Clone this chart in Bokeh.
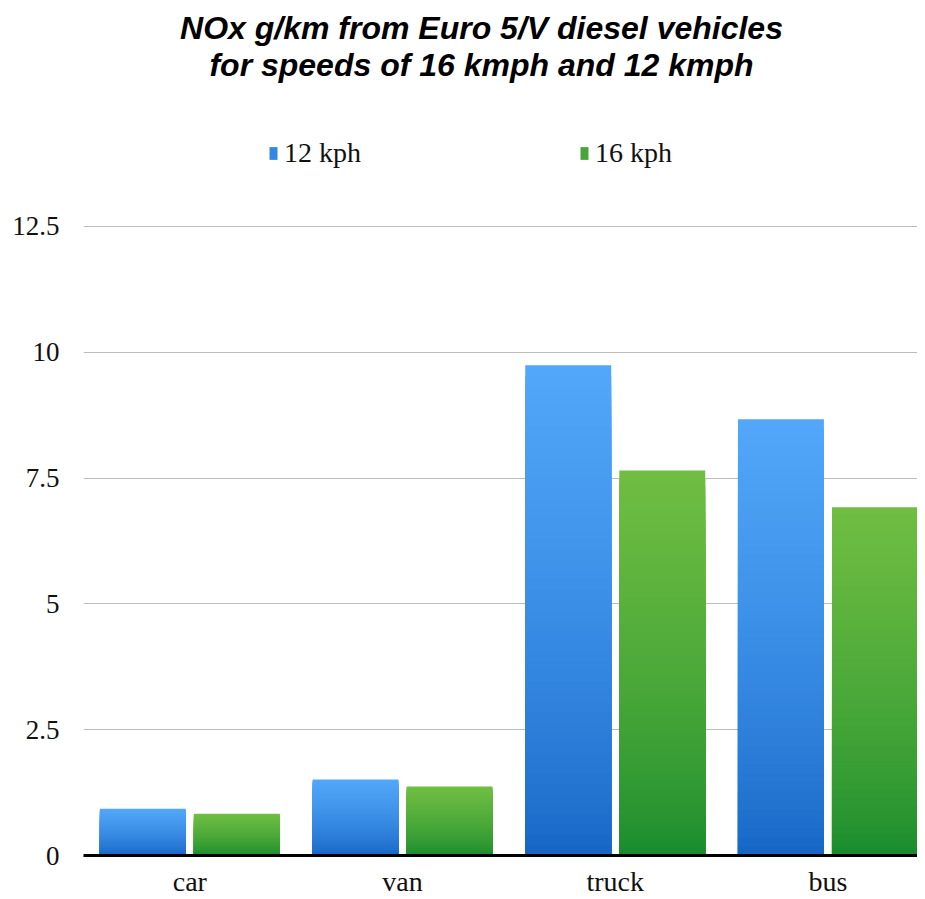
import numpy as np
from bokeh.plotting import figure
from bokeh.models import Range1d, FixedTicker, Legend, LegendItem, ColumnDataSource, Label
from bokeh.embed import file_html
from bokeh.resources import INLINE

# ---- data ----
categories = ["car", "van", "truck", "bus"]
kph12 = [0.93, 1.51, 9.74, 8.67]
kph16 = [0.83, 1.37, 7.65, 6.92]
series_labels = ["12 kph", "16 kph"]
y_ticks = [0, 2.5, 5, 7.5, 10, 12.5]
y_tick_labels = ["0", "2.5", "5", "7.5", "10", "12.5"]
title_lines = ["NOx g/km from Euro 5/V diesel vehicles",
               "for speeds of 16 kmph and 12 kmph"]

# ---- style ----
blue_top, blue_bot = (82, 168, 250), (20, 99, 196)
green_top, green_bot = (112, 190, 66), (22, 138, 44)
BAR_W = 0.404
OFFS = [-0.221, 0.221]
N = 48

W, H = 917, 899
p = figure(width=W, height=H, output_backend="svg", toolbar_location=None,
           x_range=Range1d(0, len(categories) - 0.079), y_range=Range1d(0, 16.99),
           min_border_left=83, min_border_right=0, min_border_top=0,
           min_border_bottom=0, outline_line_color=None, title=None)

def hexcol(c):
    return "#%02x%02x%02x" % tuple(int(round(v)) for v in c)

def add_series(vals, off, ctop, cbot):
    xs, tops, cols = [], [], []
    for i, v in enumerate(vals):
        for k in range(N, 0, -1):
            t = ((k - 0.5) / N) ** 0.7
            c = [cb + (ct - cb) * t for ct, cb in zip(ctop, cbot)]
            xs.append(i + 0.5 + off)
            tops.append(v * k / N)
            cols.append(hexcol(c))
    src = ColumnDataSource(dict(x=xs, top=tops, color=cols))
    return p.vbar(x="x", top="top", bottom=0, width=BAR_W, fill_color="color",
                  line_color=None, source=src)

r1 = add_series(kph12, OFFS[0], blue_top, blue_bot)
r2 = add_series(kph16, OFFS[1], green_top, green_bot)

legend = Legend(items=[LegendItem(label=series_labels[0], renderers=[r1], index=28),
                       LegendItem(label=series_labels[1], renderers=[r2], index=28)],
                orientation="horizontal", location=(185, 686), spacing=218,
                padding=0, margin=0, border_line_color=None,
                background_fill_alpha=0, label_text_font="Liberation Serif",
                label_text_font_size="28px", label_text_color="#111111",
                glyph_width=10, glyph_height=16, label_standoff=6)
p.add_layout(legend, "center")

for j, txt in enumerate(title_lines):
    p.add_layout(Label(x=398, y=828 - 37 * j, x_units="screen", y_units="screen",
                       text=txt, text_align="center", text_baseline="middle",
                       text_font="Liberation Sans", text_font_style="bold italic",
                       text_font_size="32px", text_color="#000000"))

# axes
p.xaxis.ticker = FixedTicker(ticks=[i + 0.5 for i in range(len(categories))])
p.xaxis.major_label_overrides = {i + 0.5: c for i, c in enumerate(categories)}
p.xaxis.major_label_text_font = "Liberation Serif"
p.xaxis.major_label_text_font_size = "28px"
p.xaxis.major_label_text_color = "#111111"
p.xaxis.axis_line_color = "#000000"
p.xaxis.axis_line_width = 3
p.xaxis.major_tick_line_color = None
p.xaxis.minor_tick_line_color = None
p.xaxis.major_tick_out = 0
p.xaxis.major_label_standoff = 10

p.yaxis.ticker = FixedTicker(ticks=y_ticks)
p.yaxis.major_label_overrides = {t: s for t, s in zip(y_ticks, y_tick_labels)}
p.yaxis.major_label_text_font = "Liberation Serif"
p.yaxis.major_label_text_font_size = "27px"
p.yaxis.major_label_text_color = "#111111"
p.yaxis.axis_line_color = None
p.yaxis.major_tick_line_color = None
p.yaxis.minor_tick_line_color = None
p.yaxis.major_tick_out = 0
p.yaxis.major_label_standoff = 24

p.xgrid.grid_line_color = None
p.ygrid.grid_line_color = "#bdbdbd"
p.ygrid.grid_line_width = 1

open("out.html", "w").write(file_html(p, INLINE))
